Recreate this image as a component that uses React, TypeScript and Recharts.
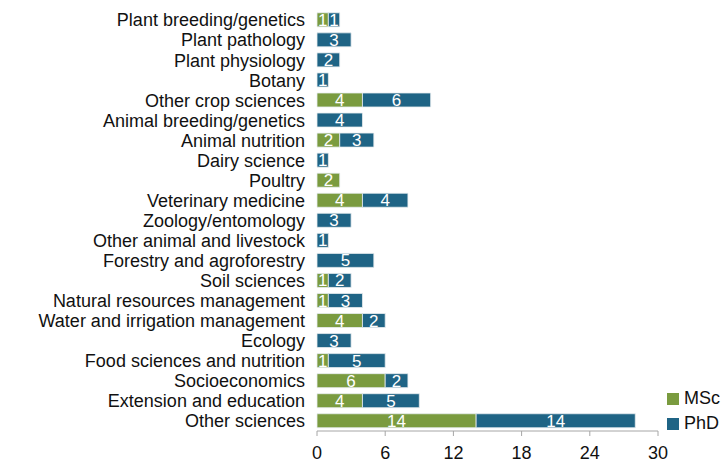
import { Bar, BarChart, LabelList, XAxis, YAxis } from 'recharts'

const categories = [
  'Plant breeding/genetics',
  'Plant pathology',
  'Plant physiology',
  'Botany',
  'Other crop sciences',
  'Animal breeding/genetics',
  'Animal nutrition',
  'Dairy science',
  'Poultry',
  'Veterinary medicine',
  'Zoology/entomology',
  'Other animal and livestock',
  'Forestry and agroforestry',
  'Soil sciences',
  'Natural resources management',
  'Water and irrigation management',
  'Ecology',
  'Food sciences and nutrition',
  'Socioeconomics',
  'Extension and education',
  'Other sciences',
]
const msc = [1, 0, 0, 0, 4, 0, 2, 0, 2, 4, 0, 0, 0, 1, 1, 4, 0, 1, 6, 4, 14]
const phd = [1, 3, 2, 1, 6, 4, 3, 1, 0, 4, 3, 1, 5, 2, 3, 2, 3, 5, 2, 5, 14]
const xTicks = [0, 6, 12, 18, 24, 30]

const GREEN = '#7a9b3f'
const TEAL = '#1f6485'
const FONT = '"Liberation Sans", Arial, sans-serif'

const data = categories.map((name, i) => ({ name, MSc: msc[i], PhD: phd[i] }))

const hideZero = (v: any) => (v ? v : '')

function Legend() {
  const items = [
    { label: 'MSc', color: GREEN },
    { label: 'PhD', color: TEAL },
  ]
  return (
    <div style={{ position: 'absolute', left: 667, top: 386, fontFamily: FONT, fontSize: 18, color: '#111' }}>
      {items.map((it) => (
        <div key={it.label} style={{ display: 'flex', alignItems: 'center', height: 25 }}>
          <span style={{ width: 12, height: 12, background: it.color, marginRight: 5, display: 'inline-block' }} />
          {it.label}
        </div>
      ))}
    </div>
  )
}

export default function App() {
  return (
    <div style={{ position: 'absolute', left: 0, top: 0, width: 721, height: 466, background: '#fff' }}>
      <BarChart
        layout="vertical"
        width={721}
        height={466}
        data={data}
        margin={{ top: 10, right: 63, bottom: 5, left: 0 }}
        barCategoryGap="14%"
      >
        <XAxis
          type="number"
          domain={[0, 30]}
          ticks={xTicks}
          axisLine={{ stroke: '#a6a6a6' }}
          tickLine={{ stroke: '#a6a6a6' }}
          tickSize={5}
          tickMargin={10}
          tick={{ fill: '#111', fontSize: 18, fontFamily: FONT }}
          height={30}
        />
        <YAxis
          type="category"
          dataKey="name"
          width={317}
          axisLine={false}
          tickLine={false}
          tickSize={0}
          tickMargin={12}
          interval={0}
          tick={{ fill: '#111', fontSize: 18, fontFamily: FONT }}
        />
        <Bar dataKey="MSc" stackId="a" fill={GREEN} stroke="#e8eef0" strokeWidth={0.8} isAnimationActive={false}>
          <LabelList dataKey="MSc" position="center" fill="#fff" fontSize={17} fontFamily={FONT} formatter={hideZero} />
        </Bar>
        <Bar dataKey="PhD" stackId="a" fill={TEAL} stroke="#e8eef0" strokeWidth={0.8} isAnimationActive={false}>
          <LabelList dataKey="PhD" position="center" fill="#fff" fontSize={17} fontFamily={FONT} formatter={hideZero} />
        </Bar>
      </BarChart>
      <Legend />
    </div>
  )
}
